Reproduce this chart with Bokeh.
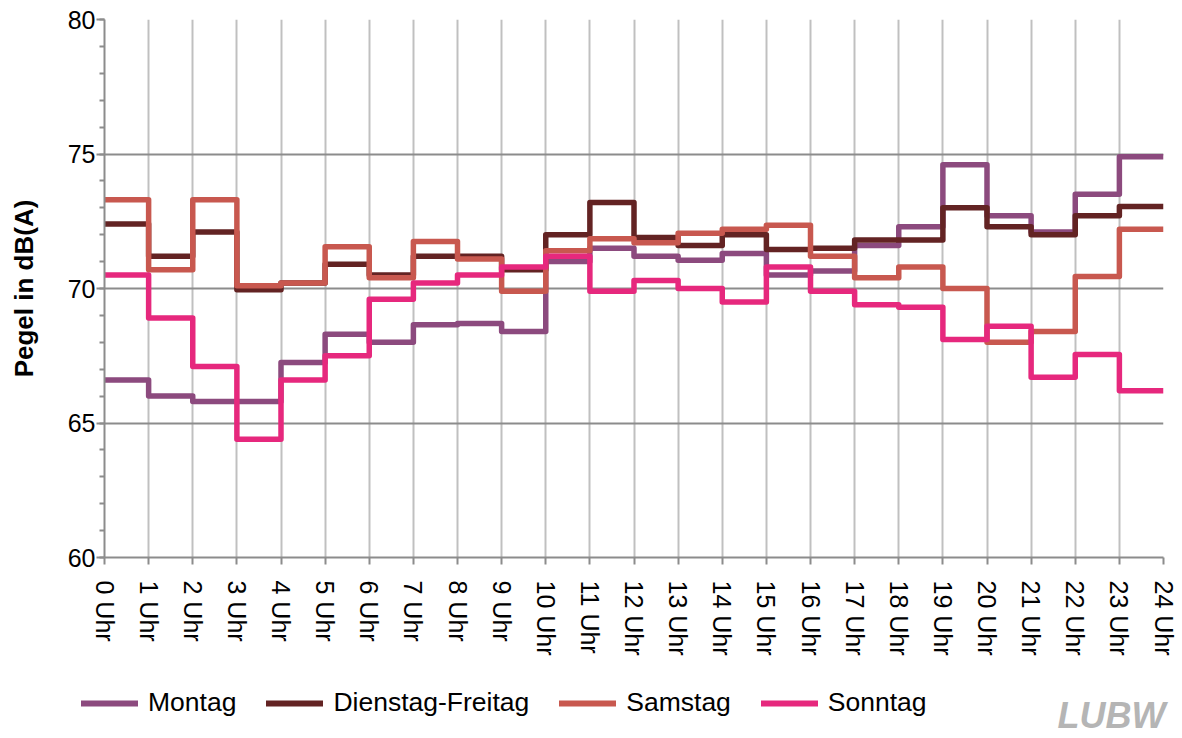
from bokeh.plotting import figure
from bokeh.layouts import column
from bokeh.models import FixedTicker, Legend, LegendItem, Label, Range1d
from bokeh.embed import file_html
from bokeh.resources import INLINE

hours = list(range(25))
hour_labels = [f"{h} Uhr" for h in hours]

montag = [66.6, 66.0, 65.8, 65.8, 67.25, 68.3, 68.0, 68.65, 68.7, 68.4,
          71.0, 71.5, 71.2, 71.05, 71.3, 70.5, 70.65, 71.6, 72.3, 74.6,
          72.7, 72.1, 73.5, 74.9]
dienstag_freitag = [72.4, 71.2, 72.1, 69.95, 70.2, 70.9, 70.5, 71.2, 71.2, 70.7,
                    72.0, 73.2, 71.9, 71.6, 72.0, 71.45, 71.5, 71.8, 71.8, 73.0,
                    72.3, 72.0, 72.7, 73.05]
samstag = [73.3, 70.7, 73.3, 70.1, 70.2, 71.55, 70.4, 71.75, 71.1, 69.9,
           71.4, 71.85, 71.7, 72.05, 72.2, 72.35, 71.2, 70.4, 70.8, 70.0,
           68.0, 68.4, 70.45, 72.2]
sonntag = [70.5, 68.9, 67.1, 64.4, 66.6, 67.5, 69.6, 70.2, 70.5, 70.8,
           71.2, 69.9, 70.3, 70.0, 69.5, 70.8, 69.9, 69.4, 69.3, 68.1,
           68.6, 66.7, 67.55, 66.2]

series = [
    ("Montag", montag, "#8C4A7E"),
    ("Dienstag-Freitag", dienstag_freitag, "#632323"),
    ("Samstag", samstag, "#C8584F"),
    ("Sonntag", sonntag, "#E6287D"),
]

FONT = "Liberation Sans"

p = figure(frame_width=1059, frame_height=538,
           x_range=Range1d(0, 24), y_range=Range1d(60, 80),
           output_backend="svg", toolbar_location=None,
           min_border_left=104, min_border_right=19,
           min_border_top=19, min_border_bottom=123)
p.outline_line_color = None
p.background_fill_color = "white"

for name, vals, col in series:
    p.step(hours, vals + [vals[-1]], mode="after", line_color=col,
           line_width=5.5, line_join="round")

# axes
p.xaxis.ticker = FixedTicker(ticks=hours)
p.xaxis.major_label_overrides = {h: lab for h, lab in zip(hours, hour_labels)}
p.xaxis.major_label_orientation = "vertical"
p.xaxis.major_tick_out = 7
p.xaxis.major_tick_in = 0
p.xaxis.major_label_standoff = 16

p.yaxis.ticker = FixedTicker(ticks=[60, 65, 70, 75, 80], minor_ticks=list(range(60, 81)))
p.yaxis.major_tick_out = 8
p.yaxis.major_tick_in = 0
p.yaxis.minor_tick_out = 5
p.yaxis.minor_tick_in = 0
p.yaxis.major_label_standoff = 1
p.yaxis.axis_label = "Pegel in dB(A)"
p.yaxis.axis_label_text_font = FONT
p.yaxis.axis_label_text_font_style = "bold"
p.yaxis.axis_label_text_font_size = "26px"
p.yaxis.axis_label_text_color = "black"
p.yaxis.axis_label_standoff = 26

for ax in (p.xaxis, p.yaxis):
    ax.axis_line_color = "#8c8c8c"
    ax.axis_line_width = 2
    ax.major_tick_line_color = "#8c8c8c"
    ax.major_tick_line_width = 2
    ax.minor_tick_line_color = "#8c8c8c"
    ax.minor_tick_line_width = 2
    ax.major_label_text_font = FONT
    ax.major_label_text_font_size = "25px"
    ax.major_label_text_color = "black"
p.xaxis.minor_tick_line_color = None

p.xgrid.ticker = FixedTicker(ticks=hours)
p.xgrid.grid_line_color = "#c0c0c0"
p.xgrid.grid_line_width = 2
p.ygrid.ticker = FixedTicker(ticks=[60, 65, 70, 75, 80])
p.ygrid.grid_line_color = "#8c8c8c"
p.ygrid.grid_line_width = 2

# legend strip with logo
p2 = figure(width=1182, height=56, x_range=Range1d(0, 1182), y_range=Range1d(0, 56),
            output_backend="svg", toolbar_location=None,
            x_axis_type=None, y_axis_type=None, min_border=0)
p2.outline_line_color = None
p2.xgrid.visible = False
p2.ygrid.visible = False

items = []
for name, vals, col in series:
    # legend-only renderer: its single point lies outside the strip's range
    r = p2.line(x=[hours[0]], y=[vals[0]], line_color=col, line_width=6, line_cap="round")
    items.append(LegendItem(label=name, renderers=[r]))

legend = Legend(items=items, orientation="horizontal", location=(81, 18),
                glyph_width=57, glyph_height=28, label_standoff=10, spacing=30,
                padding=0, margin=0, border_line_color=None,
                background_fill_alpha=0,
                label_text_font=FONT, label_text_font_size="26.5px",
                label_text_color="black")
p2.add_layout(legend, "center")

logo = Label(x=1165, y=1, text="LUBW",
             text_align="right", text_baseline="bottom",
             text_font=FONT, text_font_style="bold italic",
             text_font_size="36px", text_color="#b5b5b5")
p2.add_layout(logo)

layout = column(p, column(p2, spacing=0), spacing=0)
open("out.html", "w").write(file_html(layout, INLINE))
